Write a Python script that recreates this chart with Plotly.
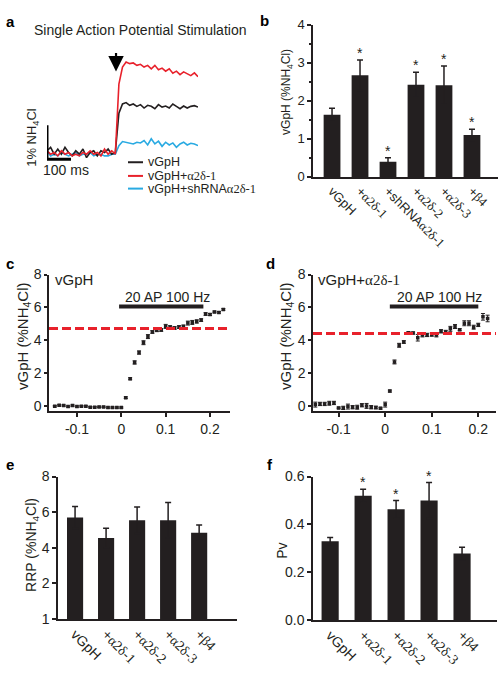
import plotly.graph_objects as go

W, H = 502, 673
def px(x): return x / W
def py(y): return 1 - y / H

SANS = "Liberation Sans, Arial, sans-serif"
SERIF = "Liberation Serif, Times New Roman, serif"
INK = "#231f20"

def serif(s):
    return "<span style='font-family:Liberation Serif'>" + s + "</span>"

# ---------------- Panel a : single AP traces ----------------
A_TIME_MS = [0, 15, 30, 45, 60, 75, 90, 105, 120, 135, 150, 165, 180, 195, 210, 225, 240, 255, 270, 285,
             300, 315, 330, 345, 360, 375, 390, 405, 420, 435, 450, 465, 480, 495, 510, 525, 540, 555, 570, 585,
             600, 615, 630]
A_VGPH = [0.05, 0.15, -0.05, 0.1, -0.05, 0.15, 0.0, -0.1, 0.05, -0.05, 0.1, -0.15, 0.0, 0.05, -0.1, 0.05, 0.0, 0.1, -0.05, 0.0,
          1.15, 1.42, 1.46, 1.38, 1.42, 1.35, 1.4, 1.3, 1.38, 1.35, 1.28, 1.4, 1.33, 1.36, 1.3, 1.42, 1.35, 1.28, 1.36, 1.3,
          1.35, 1.37, 1.33]
A_A2D1 = [0.05, -0.05, 0.0, -0.1, 0.05, -0.05, 0.0, -0.1, -0.05, -0.1, 0.0, -0.05, 0.05, -0.05, 0.0, -0.1, 0.1, -0.05, 0.05, -0.05,
          2.0, 2.5, 2.65, 2.6, 2.62, 2.55, 2.58, 2.5, 2.55, 2.45, 2.55, 2.42, 2.47, 2.38, 2.45, 2.32, 2.38, 2.28, 2.36, 2.3,
          2.25, 2.33, 2.22]
A_SHRNA = [0.05, -0.1, -0.05, -0.1, 0.0, -0.05, -0.1, -0.05, 0.0, -0.1, -0.05, -0.05, 0.0, -0.1, -0.05, -0.05, -0.1, -0.1, -0.05, -0.05,
           0.2, 0.32, 0.3, 0.28, 0.25, 0.3, 0.28, 0.35, 0.22, 0.4, 0.25, 0.33, 0.18, 0.3, 0.22, 0.28, 0.15, 0.25, 0.3, 0.22,
           0.27, 0.25, 0.2]
A_NAMES = ["vGpH", "vGpH+" + serif("α2δ-1"), "vGpH+shRNA" + serif("α2δ-1")]
A_COLORS = [INK, "#e8212b", "#29aae2"]
A_STIM_MS = 288
A_SCALE_MS = 100
A_SCALE_PCT = 1
A_SCALE_Y0 = -0.2

# ---------------- Panel b ----------------
B_LABELS = ["vGpH", "+" + serif("α2δ-1"), "+shRNA" + serif("α2δ-1"), "+" + serif("α2δ-2"),
            "+" + serif("α2δ-3"), "+" + serif("β4")]
B_MEANS = [1.63, 2.67, 0.40, 2.42, 2.41, 1.10]
B_SEM = [0.17, 0.40, 0.10, 0.33, 0.50, 0.15]
B_SIG = [False, True, True, True, True, True]

# ---------------- Panel c ----------------
C_T = [-0.15, -0.14, -0.13, -0.12, -0.11, -0.10, -0.09, -0.08, -0.07, -0.06, -0.05, -0.04, -0.03, -0.02, -0.01, 0.00,
       0.01, 0.02, 0.03, 0.04, 0.05, 0.06, 0.07, 0.08, 0.09, 0.10, 0.11, 0.12, 0.13, 0.14, 0.15, 0.16, 0.17, 0.18,
       0.19, 0.20, 0.21, 0.22, 0.23]
C_Y = [0.0, 0.06, 0.04, -0.02, 0.04, -0.02, 0.0, 0.0, -0.06, -0.06, -0.04, -0.04, -0.08, -0.08, -0.08, -0.08,
       0.52, 1.67, 2.66, 3.26, 3.86, 4.23, 4.51, 4.61, 4.63, 4.85, 4.81, 4.75, 4.81, 4.85, 5.05, 5.09, 5.15, 5.23,
       5.6, 5.57, 5.73, 5.7, 5.88]
C_ERR = [0.04, 0.04, 0.04, 0.04, 0.04, 0.04, 0.04, 0.04, 0.04, 0.04, 0.04, 0.04, 0.04, 0.04, 0.04, 0.04,
         0.05, 0.06, 0.1, 0.1, 0.12, 0.12, 0.08, 0.08, 0.08, 0.12, 0.08, 0.08, 0.08, 0.08, 0.12, 0.12, 0.1, 0.08,
         0.08, 0.06, 0.05, 0.05, 0.05]
C_PLATEAU = 4.72
C_STIM = [-0.005, 0.185]

# ---------------- Panel d ----------------
D_T = [-0.15, -0.14, -0.13, -0.12, -0.11, -0.10, -0.09, -0.08, -0.07, -0.06, -0.05, -0.04, -0.03, -0.02, -0.01, 0.00,
       0.01, 0.02, 0.03, 0.04, 0.05, 0.06, 0.07, 0.08, 0.09, 0.10, 0.11, 0.12, 0.13, 0.14, 0.15, 0.16, 0.17, 0.18,
       0.19, 0.20, 0.21, 0.22]
D_Y = [0.1, 0.14, 0.14, 0.18, 0.2, -0.1, -0.1, -0.02, -0.06, -0.06, 0.06, 0.02, -0.06, -0.08, -0.12, 0.1,
       0.92, 2.69, 3.7, 3.9, 4.47, 4.45, 4.16, 4.33, 4.33, 4.35, 4.33, 4.55, 4.51, 4.7, 4.84, 4.65, 5.04, 5.04,
       4.8, 4.94, 5.43, 5.33]
D_ERR = [0.15, 0.1, 0.1, 0.12, 0.1, 0.05, 0.1, 0.15, 0.1, 0.12, 0.1, 0.15, 0.1, 0.08, 0.05, 0.15,
         0.06, 0.12, 0.12, 0.08, 0.06, 0.06, 0.2, 0.12, 0.1, 0.1, 0.12, 0.1, 0.1, 0.15, 0.12, 0.06, 0.15, 0.15,
         0.12, 0.1, 0.2, 0.2]
D_PLATEAU = 4.42
D_STIM = [0.01, 0.2]

# ---------------- Panels e, f ----------------
EF_LABELS = ["vGpH", "+" + serif("α2δ-1"), "+" + serif("α2δ-2"), "+" + serif("α2δ-3"), "+" + serif("β4")]
E_MEANS = [5.7, 4.55, 5.55, 5.55, 4.85]
E_SEM = [0.62, 0.55, 0.75, 1.0, 0.43]
E_TICKVALS = [0, 2, 4, 6, 8]
E_TICKTEXT = ["1", "2", "4", "6", "8"]
F_MEANS = [0.33, 0.52, 0.463, 0.50, 0.278]
F_SEM = [0.015, 0.027, 0.037, 0.075, 0.027]
F_SIG = [False, True, True, True, False]

STIM_TEXT = "20 AP 100 Hz"

fig = go.Figure()

# ---- panel a traces (draw order: blue, black, red)
for yv, col in [(A_SHRNA, A_COLORS[2]), (A_VGPH, A_COLORS[0]), (A_A2D1, A_COLORS[1])]:
    fig.add_trace(go.Scatter(x=A_TIME_MS, y=yv, mode="lines", line=dict(color=col, width=1.6),
                             xaxis="x", yaxis="y", hoverinfo="skip"))
# scale bar
fig.add_trace(go.Scatter(x=[0, 0, A_SCALE_MS], y=[A_SCALE_Y0 + A_SCALE_PCT, A_SCALE_Y0, A_SCALE_Y0],
                         mode="lines", line=dict(color="black", width=3), xaxis="x", yaxis="y", hoverinfo="skip"))

# ---- panel b
idx_b = list(range(len(B_LABELS)))
fig.add_trace(go.Bar(x=idx_b, y=B_MEANS, width=0.6, marker=dict(color=INK, line=dict(width=0)),
                     error_y=dict(type="data", array=B_SEM, color=INK, thickness=1.5, width=3),
                     xaxis="x2", yaxis="y2"))

# ---- panel c
fig.add_trace(go.Scatter(x=C_T, y=C_Y, mode="markers", marker=dict(symbol="square", size=3.5, color=INK),
                         error_y=dict(type="data", array=C_ERR, color=INK, thickness=1, width=2),
                         xaxis="x3", yaxis="y3"))
fig.add_trace(go.Scatter(x=C_STIM, y=[6.05, 6.05], mode="lines", line=dict(color=INK, width=4),
                         xaxis="x3", yaxis="y3", hoverinfo="skip"))

# ---- panel d
fig.add_trace(go.Scatter(x=D_T, y=D_Y, mode="markers", marker=dict(symbol="square", size=3.5, color=INK),
                         error_y=dict(type="data", array=D_ERR, color=INK, thickness=1, width=2),
                         xaxis="x4", yaxis="y4"))
fig.add_trace(go.Scatter(x=D_STIM, y=[6.05, 6.05], mode="lines", line=dict(color=INK, width=4),
                         xaxis="x4", yaxis="y4", hoverinfo="skip"))

# ---- panel e
idx_ef = list(range(len(EF_LABELS)))
fig.add_trace(go.Bar(x=idx_ef, y=E_MEANS, width=0.52, marker=dict(color=INK, line=dict(width=0)),
                     error_y=dict(type="data", array=E_SEM, color=INK, thickness=1.5, width=3),
                     xaxis="x5", yaxis="y5"))
# ---- panel f
fig.add_trace(go.Bar(x=idx_ef, y=F_MEANS, width=0.52, marker=dict(color=INK, line=dict(width=0)),
                     error_y=dict(type="data", array=F_SEM, color=INK, thickness=1.5, width=3),
                     xaxis="x6", yaxis="y6"))

AX = dict(showline=True, linecolor=INK, linewidth=1.5, showgrid=False, zeroline=False,
          tickcolor=INK, tickwidth=1.5, ticklen=4, tickfont=dict(family=SANS, size=14, color=INK))

def xd(a, b): return [px(a), px(b)]
def yd(top, bottom): return [py(bottom), py(top)]

fig.update_layout(
    width=W, height=H, margin=dict(l=0, r=0, t=0, b=0), showlegend=False,
    plot_bgcolor="white", paper_bgcolor="white",
    font=dict(family=SANS, color=INK, size=14),
    xaxis=dict(domain=xd(47, 198), range=[0, 630], visible=False, anchor="y"),
    yaxis=dict(domain=yd(42, 160), range=[-(160 - 148) / 35, (148 - 42) / 35], visible=False, anchor="x"),
    xaxis2=dict(AX, domain=xd(313, 498), range=[-0.68, 5.93], anchor="y2", ticks="",
                tickvals=idx_b, ticktext=B_LABELS, tickangle=45, tickfont=dict(family=SANS, size=13, color=INK)),
    yaxis2=dict(AX, domain=yd(17, 173), range=[0, 4], anchor="x2", ticks="outside", dtick=1,
                tickfont=dict(family=SANS, size=13, color=INK),
                minor=dict(ticks="outside", dtick=0.5, ticklen=2, tickcolor=INK)),
    xaxis3=dict(AX, domain=xd(49, 230), range=[-0.163, 0.245], anchor="y3", ticks="outside",
                tickvals=[-0.1, 0, 0.1, 0.2], ticktext=["-0.1", "0", "0.1", "0.2"]),
    yaxis3=dict(AX, domain=yd(273, 413), range=[-0.3, 8], anchor="x3", ticks="outside", ticklen=3,
                tickvals=[0, 2, 4, 6, 8]),
    xaxis4=dict(AX, domain=xd(313, 496), range=[-0.155, 0.238], anchor="y4", ticks="outside",
                tickvals=[-0.1, 0, 0.1, 0.2], ticktext=["-0.1", "0", "0.1", "0.2"]),
    yaxis4=dict(AX, domain=yd(273, 413), range=[-0.3, 8], anchor="x4", ticks="outside", ticklen=3,
                tickvals=[0, 2, 4, 6, 8]),
    xaxis5=dict(AX, domain=xd(58, 237), range=[-0.55, 5.22], anchor="y5", ticks="",
                tickvals=idx_ef, ticktext=EF_LABELS, tickangle=45, tickfont=dict(family=SANS, size=14, color=INK)),
    yaxis5=dict(AX, domain=yd(480, 626), range=[0, 8], anchor="x5", ticks="outside",
                tickvals=E_TICKVALS, ticktext=E_TICKTEXT),
    xaxis6=dict(AX, domain=xd(313, 497), range=[-0.52, 5.06], anchor="y6", ticks="",
                tickvals=idx_ef, ticktext=EF_LABELS, tickangle=45, tickfont=dict(family=SANS, size=14, color=INK)),
    yaxis6=dict(AX, domain=yd(480, 627), range=[0, 0.6], anchor="x6", ticks="outside",
                tickvals=[0, 0.2, 0.4, 0.6], ticktext=["0.0", "0.2", "0.4", "0.6"]),
)

ann = []
def text(x, y, s, size=14, xanchor="center", yanchor="middle", angle=0, bold=False, fam=SANS, xref="paper", yref="paper"):
    ann.append(dict(x=x, y=y, xref=xref, yref=yref, text=("<b>%s</b>" % s) if bold else s, showarrow=False,
                    xanchor=xanchor, yanchor=yanchor, textangle=angle,
                    font=dict(family=fam, size=size, color="black" if bold else INK)))

# panel letters
for letter, x, y in [("a", 10, 14), ("b", 264, 13), ("c", 10, 262), ("d", 270, 262), ("e", 10, 468), ("f", 270, 468)]:
    text(px(x), py(y), letter, size=15, bold=True)

# panel a texts
text(px(140), py(23), "Single Action Potential Stimulation", size=14)
text(px(33), py(133), "1% NH<sub>4</sub>Cl", size=13, angle=-90)
text(px(66), py(166), "100 ms", size=14)
ann.append(dict(x=A_STIM_MS, y=(148 - 65) / 35, xref="x", yref="y", showarrow=True, ax=0, ay=-20,
                arrowhead=2, arrowsize=1.4, arrowwidth=2.2, arrowcolor="black", text=""))
for i, (nm, col, yy) in enumerate(zip(A_NAMES, A_COLORS, [158, 172, 185])):
    fig.add_shape(type="line", xref="paper", yref="paper", x0=px(128), x1=px(143), y0=py(yy), y1=py(yy),
                  line=dict(color=col, width=2))
    text(px(146), py(yy), nm, size=12.5, xanchor="left")

# y-axis titles
text(px(287), py(86), "vGpH (%NH<sub>4</sub>Cl)", size=12, angle=-90)
text(px(23), py(336), "vGpH (%NH<sub>4</sub>Cl)", size=15, angle=-90)
text(px(286), py(336), "vGpH (%NH<sub>4</sub>Cl)", size=15, angle=-90)
text(px(32), py(550), "RRP (%NH<sub>4</sub>Cl)", size=14, angle=-90)
text(px(282), py(556), "Pv", size=14, angle=-90)

# panel c/d inner labels
text(px(53), py(278), "vGpH", size=15, xanchor="left")
text(px(316), py(278), "vGpH+" + serif("α2δ-1"), size=15, xanchor="left")
text(0.105, 6.65, STIM_TEXT, size=14, xref="x3", yref="y3")
text(0.117, 6.65, STIM_TEXT, size=14, xref="x4", yref="y4")

# asterisks
for i, (m, s, sig) in enumerate(zip(B_MEANS, B_SEM, B_SIG)):
    if sig:
        ann.append(dict(x=i, y=m + s, xref="x2", yref="y2", text="*", showarrow=False, yanchor="middle",
                        yshift=7, font=dict(family=SANS, size=14, color=INK)))
for i, (m, s, sig) in enumerate(zip(F_MEANS, F_SEM, F_SIG)):
    if sig:
        ann.append(dict(x=i, y=m + s, xref="x6", yref="y6", text="*", showarrow=False, yanchor="middle",
                        yshift=7, font=dict(family=SANS, size=14, color=INK)))

# plateau lines
for xr, yr, val in [("x3 domain", "y3", C_PLATEAU), ("x4 domain", "y4", D_PLATEAU)]:
    fig.add_shape(type="line", xref=xr, yref=yr, x0=0, x1=1, y0=val, y1=val,
                  line=dict(color="#e8212b", width=3, dash="9px,4px"))

fig.update_layout(annotations=ann)
fig.write_html("out.html", config={"displayModeBar": False},
               post_script="document.body.style.margin='0';document.body.style.overflow='hidden';")
